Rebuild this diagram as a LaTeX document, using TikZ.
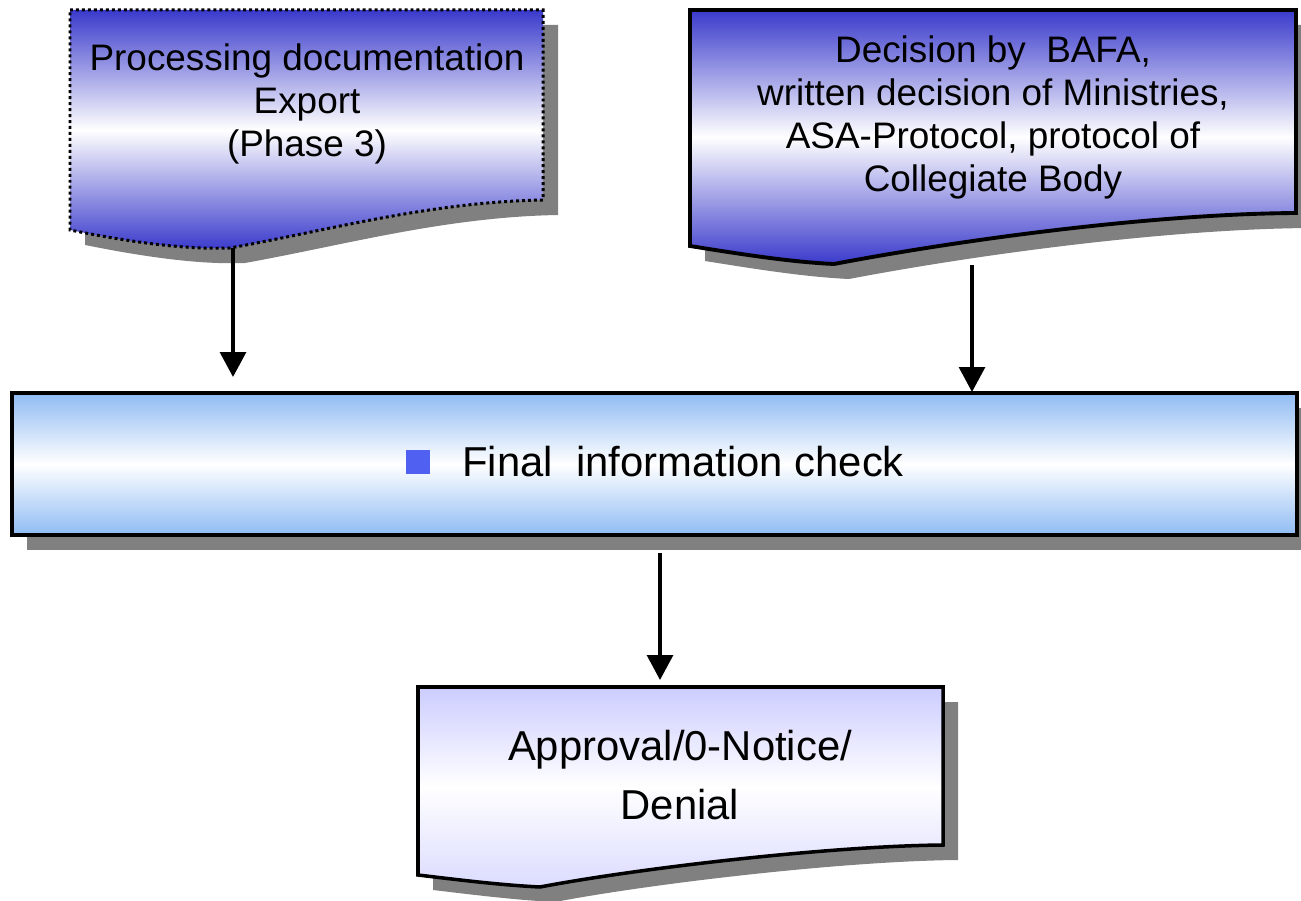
\documentclass[tikz,border=0pt]{standalone}
\usepackage{fontspec}
\setmainfont{Liberation Sans}
\usetikzlibrary{arrows.meta}
\definecolor{docblue}{RGB}{58,58,204}
\definecolor{midblue}{RGB}{143,187,243}
\definecolor{lav}{RGB}{204,204,255}
\definecolor{shadowgray}{RGB}{128,128,128}
\definecolor{bulletblue}{RGB}{80,96,240}
\tikzset{
  shapeA/.style={insert path={(70,10) -- (543,10) -- (543,200)
     .. controls (430,202) and (330,230) .. (230,248)
     .. controls (180,250) and (120,240) .. (70,230) -- cycle}},
  shapeB/.style={insert path={(690,10) -- (1296,10) -- (1296,213)
     .. controls (1150,214) and (960,240) .. (834,264)
     .. controls (790,262) and (740,254) .. (690,246) -- cycle}},
  shapeC/.style={insert path={(12,393) rectangle (1297,535)}},
  shapeD/.style={insert path={(418,687) -- (943,687) -- (943,845)
     .. controls (830,846) and (640,868) .. (540,887)
     .. controls (500,885) and (460,880) .. (418,875) -- cycle}},
  shadowbox/.style={fill=shadowgray, shift={(15,15)}},
  darkdoc/.style={top color=docblue, bottom color=docblue, middle color=white},
  topfont/.style={font=\fontsize{21}{24.4}\selectfont, align=center, inner sep=0pt},
  bigfont/.style={font=\fontsize{23.8}{34}\selectfont, align=center, inner sep=0pt},
  arr/.style={line width=2pt, -{Triangle[width=14.7pt,length=14.2pt]}},
}
\begin{document}
\begin{tikzpicture}[x=0.02cm,y=-0.02cm]
\useasboundingbox (0,0) rectangle (1301,901);
\clip (0,0) rectangle (1301,901);
% shadows
\path[shadowbox, shapeA];
\path[shadowbox, shapeB];
\path[shadowbox, shapeC];
\path[shadowbox, shapeD];
% boxes
\path[darkdoc, shapeA];
\draw[line width=1.7pt, dash pattern=on 1.7pt off 1.7pt, shapeA];
\draw[darkdoc, line width=2.2pt, shapeB];
\draw[top color=midblue, bottom color=midblue, middle color=white, line width=2.3pt, shapeC];
\draw[top color=lav, bottom color=lav!70, middle color=white, line width=2pt, shapeD];
% texts
\node[topfont] (pdoc) at (307,104) {Processing documentation\\Export\\(Phase 3)};
\node[topfont] (dec) at (993,117.5) {Decision by~ BAFA,\\written decision of Ministries,\\ASA-Protocol, protocol of\\Collegiate Body};
\node[fill=bulletblue, minimum width=0.48cm, minimum height=0.48cm, inner sep=0pt] (bullet) at (418,462) {};
\node[bigfont, anchor=base west] (check) at (462,477) {Final~ information check};
\node[bigfont] (appr) at (680,775) {Approval/0-Notice/\\Denial};
% connectors
\coordinate (pdocout) at (233,248);
\coordinate (checkinA) at (233,377);
\coordinate (decout) at (972,265);
\coordinate (checkinB) at (972,392);
\coordinate (checkout) at (660,553);
\coordinate (apprin) at (660,680);
\draw[arr] (pdocout) -- (checkinA);
\draw[arr] (decout) -- (checkinB);
\draw[arr] (checkout) -- (apprin);
\end{tikzpicture}
\end{document}
